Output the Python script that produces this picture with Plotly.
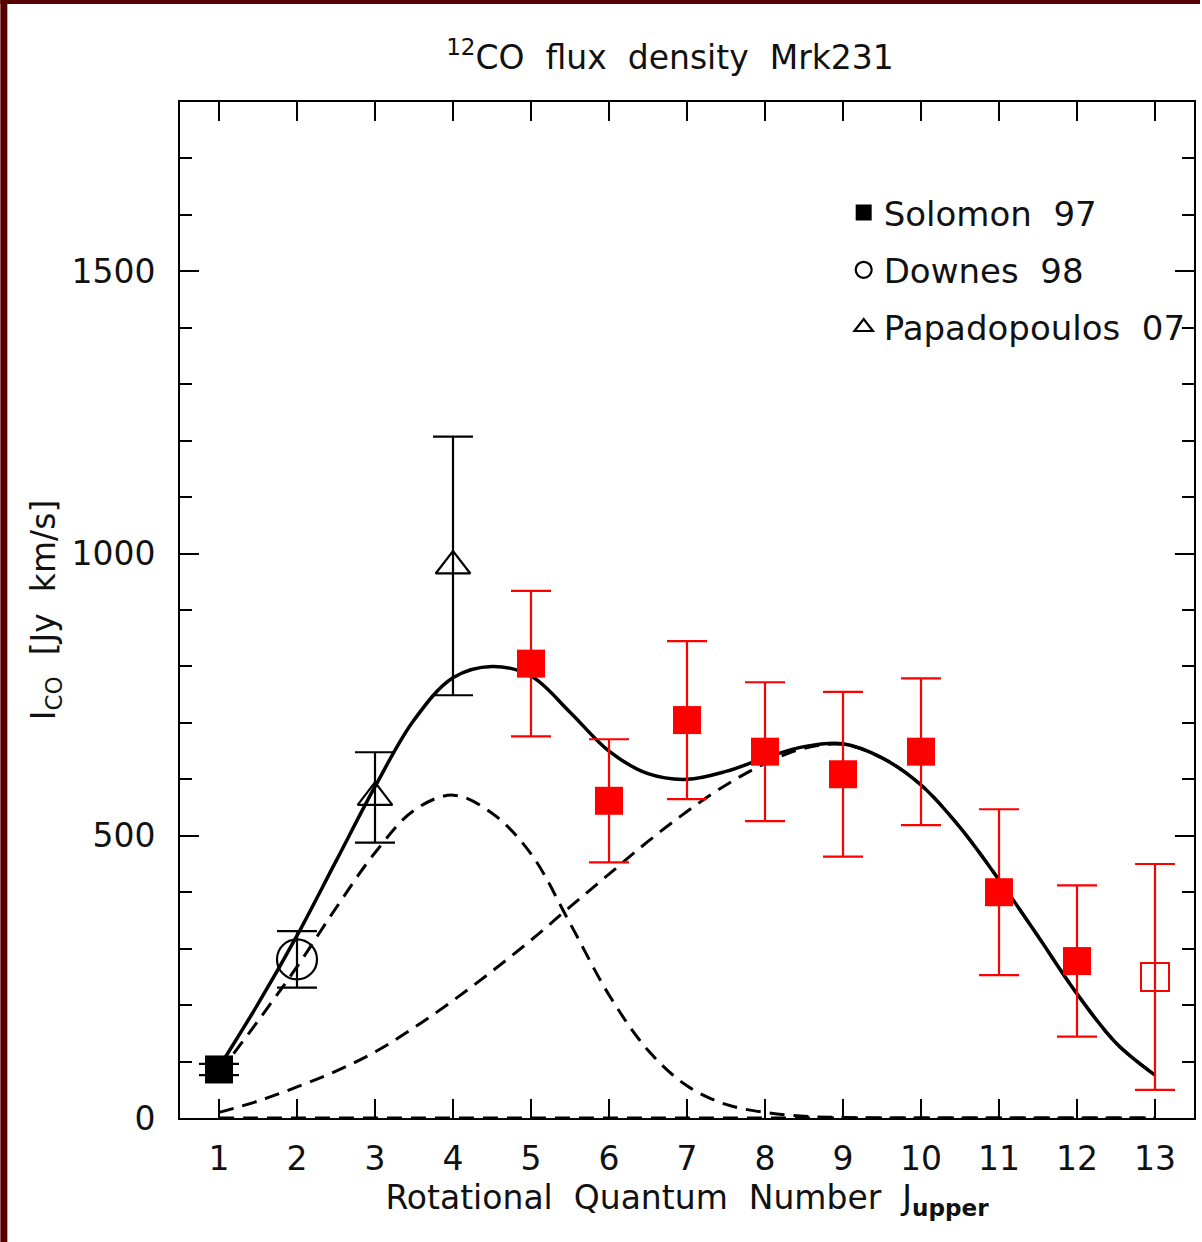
import plotly.graph_objects as go

# ---- data ----
J_solomon = [1]
I_solomon = [86]
E_solomon = [10]

J_downes = [2]
I_downes = [281]
E_downes = [50]

J_papa = [3, 4]
I_papa = [568, 978]
E_papa = [80, 229]

J_new = [5, 6, 7, 8, 9, 10, 11, 12]
I_new = [805, 562, 705, 649, 609, 649, 400, 278]
E_new = [129, 109, 140, 123, 146, 130, 147, 134]

J_limit = [13]
I_limit = [250]
E_limit = [200]

J_model = [1, 1.5, 2, 2.5, 3, 3.5, 4, 4.5, 5, 5.5, 6, 6.5, 7, 7.5, 8, 8.5, 9,
           9.5, 10, 10.5, 11, 11.5, 12, 12.5, 13]
model_low = [80, 172, 268, 372, 470, 545, 572, 540, 468, 345, 218, 120, 57,
             24, 10, 3, 1, 0, 0, 0, 0, 0, 0, 0, 0]
model_high = [10, 30, 55, 83, 117, 160, 208, 260, 315, 374, 432, 490, 543,
              590, 628, 655, 662, 638, 590, 515, 422, 322, 220, 133, 76]
model_total = [90, 202, 323, 455, 587, 705, 780, 800, 783, 719, 650, 610, 600,
               614, 638, 658, 663, 638, 590, 515, 422, 322, 220, 133, 76]
model_third = [0, 0, 0, 0, 0, 0, 0, 0, 0, 0, 0, 0, 0,
               0, 0, 0, 0, 0, 0, 0, 0, 0, 0, 0, 0]

x_ticks = [1, 2, 3, 4, 5, 6, 7, 8, 9, 10, 11, 12, 13]
y_ticks = [0, 500, 1000, 1500]

FONT = "DejaVu Sans"
RED = "#ff0000"

fig = go.Figure()

dash = "15px,9px"
for comp in (model_third, model_high, model_low):
    fig.add_trace(go.Scatter(x=J_model, y=comp, mode="lines", showlegend=False,
                             line=dict(color="black", width=3, dash=dash, shape="spline"),
                             hoverinfo="skip"))
fig.add_trace(go.Scatter(x=J_model, y=model_total, mode="lines", showlegend=False,
                         line=dict(color="black", width=3.5, shape="spline"),
                         hoverinfo="skip"))

# red (new) points
fig.add_trace(go.Scatter(x=J_new, y=I_new, mode="markers", showlegend=False,
                         marker=dict(symbol="square", size=28, color=RED, line=dict(width=0)),
                         error_y=dict(type="data", array=E_new, color=RED, thickness=2.2, width=20)))
fig.add_trace(go.Scatter(x=J_limit, y=I_limit, mode="markers", showlegend=False,
                         marker=dict(symbol="square-open", size=28, color=RED, line=dict(width=2)),
                         error_y=dict(type="data", array=E_limit, color=RED, thickness=2.2, width=20)))

# literature points
fig.add_trace(go.Scatter(x=J_solomon, y=I_solomon, mode="markers", name="Solomon  97",
                         legendgroup="a",
                         marker=dict(symbol="square", size=28, color="black"),
                         error_y=dict(type="data", array=E_solomon, color="black", thickness=2.2, width=20)))
fig.add_trace(go.Scatter(x=J_downes, y=I_downes, mode="markers", name="Downes  98",
                         legendgroup="b",
                         marker=dict(symbol="circle-open", size=40, color="black", line=dict(width=2.2)),
                         error_y=dict(type="data", array=E_downes, color="black", thickness=2.2, width=20)))
fig.add_trace(go.Scatter(x=J_papa, y=I_papa, mode="markers", name="Papadopoulos  07",
                         legendgroup="c",
                         marker=dict(symbol="triangle-up-open", size=30, color="black", line=dict(width=2.2)),
                         error_y=dict(type="data", array=E_papa, color="black", thickness=2.2, width=20)))

# dark red frame edges of the original image
L, R, T, B = 180, 6, 102, 124
W, H = 1202, 1242
pw, ph = W - L - R, H - T - B
def px2x(px):
    return (px - L) / pw
def py2y(py):
    return (H - B - py) / ph
fig.add_shape(type="rect", xref="paper", yref="paper", x0=px2x(0), x1=px2x(7),
              y0=py2y(H), y1=py2y(0), fillcolor="#580000", line=dict(width=0), layer="above")
fig.add_shape(type="rect", xref="paper", yref="paper", x0=px2x(0), x1=px2x(W),
              y0=py2y(4), y1=py2y(0), fillcolor="#580000", line=dict(width=0), layer="above")

axis_common = dict(showline=True, linecolor="black", linewidth=2, mirror="ticks",
                   ticks="inside", tickcolor="black", tickwidth=2, showgrid=False,
                   zeroline=False, tickfont=dict(family=FONT, size=33, color="#111111"))

fig.update_xaxes(range=[0.5, 13.5], tickvals=x_ticks, ticktext=[str(v) for v in x_ticks],
                 ticklen=19, ticklabelstandoff=10,
                 title=dict(text="Rotational  Quantum  Number  J<sub><b>upper</b></sub>",
                            font=dict(family=FONT, size=33, color="#111111"), standoff=4),
                 **axis_common)
fig.update_yaxes(range=[0, 1800], tickvals=y_ticks, ticktext=[str(v) for v in y_ticks],
                 ticklen=19, ticklabelstandoff=16,
                 minor=dict(dtick=100, ticklen=12, ticks="inside", tickcolor="black", tickwidth=2),
                 title=dict(text="I<sub>CO</sub>  [Jy  km/s]",
                            font=dict(family=FONT, size=33, color="#111111"), standoff=6),
                 **axis_common)

fig.update_layout(
    width=W, height=H,
    margin=dict(l=L, r=R, t=T, b=B),
    paper_bgcolor="white", plot_bgcolor="white",
    title=dict(text="<sup>12</sup>CO  flux  density  Mrk231", x=670 / W,
               xanchor="center", y=1 - 57 / H, yanchor="middle",
               font=dict(family=FONT, size=33, color="#111111")),
    legend=dict(x=px2x(845), y=py2y(184), xanchor="left", yanchor="top",
                bgcolor="rgba(0,0,0,0)", borderwidth=0, tracegroupgap=10,
                itemsizing="trace",
                font=dict(family=FONT, size=34, color="#111111")),
    showlegend=True,
)

fig.write_html("out.html", config={"displayModeBar": False},
               post_script="document.body.style.margin='0';")
